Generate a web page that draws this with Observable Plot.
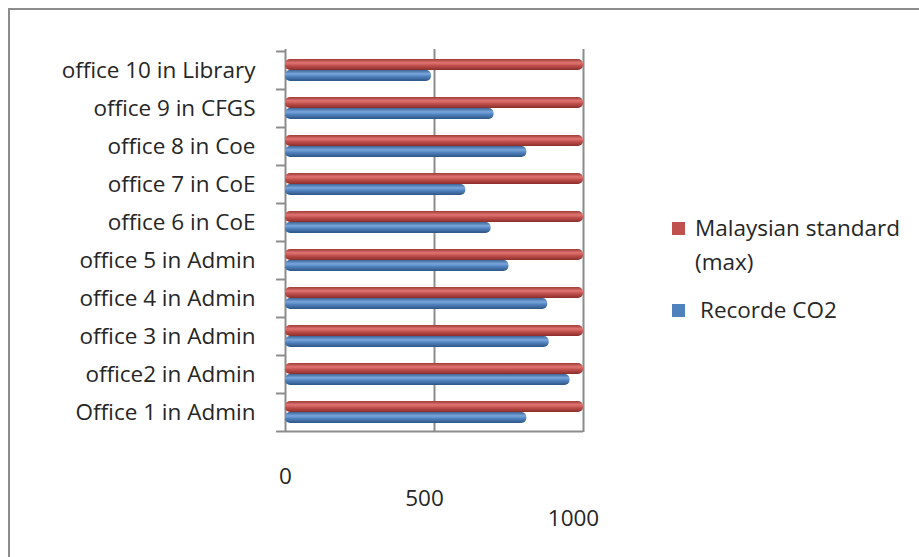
<!DOCTYPE html>
<html>
<head>
<meta charset="utf-8">
<script src="https://cdn.jsdelivr.net/npm/d3@7"></script>
<script src="https://cdn.jsdelivr.net/npm/@observablehq/plot@0.6"></script>
<style>
  html, body { margin: 0; padding: 0; background: #fff; }
  #frame { position: absolute; left: 8px; top: 8px; width: 930px; height: 570px;
           border-top: 2px solid #8c8c8c; border-left: 2px solid #8c8c8c; }
  #chart { position: absolute; left: 0; top: 0; }
  .legend { position: absolute; left: 672px; font-family: "Open Sans", sans-serif;
            font-size: 22.5px; color: #262626; line-height: 34px; white-space: nowrap; }
  .legend .sw { display: inline-block; width: 13px; height: 13px; margin-right: 10px; vertical-align: 1px; }
</style>
</head>
<body>
<div id="frame"></div>
<div id="chart"></div>
<div class="legend" style="top:211px;"><span class="sw" style="background:#c0504d"></span>Malaysian standard<br><span style="padding-left:23px">(max)</span></div>
<div class="legend" style="top:293px;"><span class="sw" style="background:#4f81bd;margin-right:15px"></span>Recorde CO2</div>
<script>
const categories = ["office 10 in Library", "office 9 in CFGS", "office 8 in Coe", "office 7 in CoE", "office 6 in CoE",
  "office 5 in Admin", "office 4 in Admin", "office 3 in Admin", "office2 in Admin", "Office 1 in Admin"];
const standardMax = [1000, 1000, 1000, 1000, 1000, 1000, 1000, 1000, 1000, 1000];
const recordedCO2 = [490, 700, 810, 605, 690, 750, 880, 885, 955, 810];
const xTicks = [0, 500, 1000];

const standardRows = categories.map((c, i) => ({category: c, value: standardMax[i]}));
const recordedRows = categories.map((c, i) => ({category: c, value: recordedCO2[i]}));

const axisStyle = {tickSize: 0, tickFormat: d => String(d), label: null, fontSize: "22.5px", fill: "#262626"};

const plot = Plot.plot({
  width: 640,
  height: 540,
  marginLeft: 285,
  marginRight: 57,
  marginTop: 49,
  marginBottom: 108,
  style: {fontFamily: "'Open Sans', sans-serif", fontSize: "22.5px", color: "#262626", background: "transparent"},
  x: {domain: [0, 1000], axis: null},
  y: {domain: categories, padding: 0, label: null, tickSize: 0, tickPadding: 30},
  marks: [
    Plot.ruleX(xTicks, {stroke: "#8c8c8c", strokeWidth: 2}),
    Plot.ruleY([categories[categories.length - 1]], {stroke: "#8c8c8c", strokeWidth: 2, dy: 19}),
    Plot.ruleY(categories, {y: d => d, x1: -30, x2: 0, stroke: "#8c8c8c", strokeWidth: 2, dy: -19}),
    Plot.ruleY([categories[categories.length - 1]], {x1: -30, x2: 0, stroke: "#8c8c8c", strokeWidth: 2, dy: 19}),
    Plot.barX(standardRows, {y: "category", x: "value", fill: "url(#gradRed)", insetTop: 8, insetBottom: 19, rx: 5}),
    Plot.barX(recordedRows, {y: "category", x: "value", fill: "url(#gradBlue)", insetTop: 19, insetBottom: 8, rx: 5}),
    Plot.axisX([xTicks[0]], {...axisStyle, anchor: "bottom", dy: 27}),
    Plot.axisX([xTicks[1]], {...axisStyle, anchor: "bottom", dy: 49, dx: -10}),
    Plot.axisX([xTicks[2]], {...axisStyle, anchor: "bottom", dy: 69, dx: -10})
  ]
});

const ns = "http://www.w3.org/2000/svg";
const defs = document.createElementNS(ns, "defs");
defs.innerHTML = `
<linearGradient id="gradRed" x1="0" y1="0" x2="0" y2="1">
  <stop offset="0" stop-color="#9e3a37"/><stop offset="0.35" stop-color="#e07572"/>
  <stop offset="0.6" stop-color="#c0504d"/><stop offset="1" stop-color="#8a2d2a"/>
</linearGradient>
<linearGradient id="gradBlue" x1="0" y1="0" x2="0" y2="1">
  <stop offset="0" stop-color="#3a6496"/><stop offset="0.35" stop-color="#7aa6dc"/>
  <stop offset="0.6" stop-color="#4f81bd"/><stop offset="1" stop-color="#2f5585"/>
</linearGradient>`;
plot.insertBefore(defs, plot.firstChild);
document.getElementById("chart").appendChild(plot);
</script>
</body>
</html>
